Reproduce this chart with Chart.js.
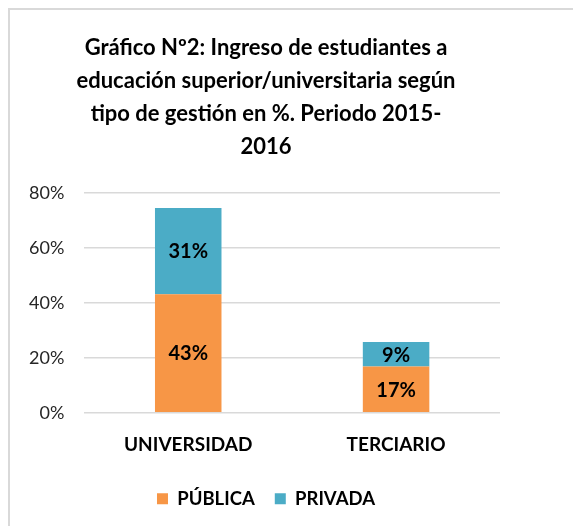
<!DOCTYPE html>
<html>
<head>
<meta charset="utf-8">
<script src="https://cdn.jsdelivr.net/npm/chart.js@4/dist/chart.umd.min.js"></script>
<style>
  html, body { margin: 0; padding: 0; background: #fff; }
  #box {
    position: absolute; left: 8px; top: 8px;
    width: 580px; height: 530px;
    border: 2px solid #d9d9d9;
    box-sizing: border-box;
  }
  #wrap { position: absolute; left: 9px; top: 9px; width: 564px; height: 517px; }
</style>
</head>
<body>
<div id="box"></div>
<div id="wrap"><canvas id="grafico"></canvas></div>
<script>
const categorias = ['UNIVERSIDAD', 'TERCIARIO'];
const publica = [43.2, 16.8];
const privada = [31.4, 9.0];
const ticksY = [0, 20, 40, 60, 80];
const titulo = [
    'Gráfico Nº2: Ingreso de estudiantes a',
    'educación superior/universitaria según',
    'tipo de gestión en %. Periodo 2015-',
    '2016'
];

const fuente = "Lato, 'Open Sans', sans-serif";

// etiquetas de porcentaje dentro de cada tramo
const etiquetas = {
    id: 'etiquetas',
    afterDatasetsDraw(chart) {
        const ctx = chart.ctx;
        ctx.save();
        ctx.font = 'bold 20px ' + fuente;
        ctx.fillStyle = '#000';
        ctx.textAlign = 'center';
        ctx.textBaseline = 'middle';
        chart.data.datasets.forEach((ds, i) => {
            chart.getDatasetMeta(i).data.forEach((bar, j) => {
                const y = (bar.y + bar.base) / 2;
                ctx.fillText(Math.round(ds.data[j]) + '%', bar.x, y + 1);
            });
        });
        ctx.restore();
    }
};

new Chart(document.getElementById('grafico'), {
    type: 'bar',
    data: {
        labels: categorias,
        datasets: [
            { label: 'PÚBLICA', data: publica, backgroundColor: '#F79646' },
            { label: 'PRIVADA', data: privada, backgroundColor: '#4BACC6' }
        ]
    },
    options: {
        responsive: true,
        maintainAspectRatio: false,
        animation: false,
        layout: { padding: { left: 0, right: 50, top: 0, bottom: 8 } },
        datasets: { bar: { categoryPercentage: 0.64, barPercentage: 0.5 } },
        plugins: {
            title: {
                display: true,
                text: titulo,
                color: '#000',
                font: { family: fuente, size: 22, weight: 'bold', lineHeight: 1.49 },
                padding: { top: 23, bottom: 30 }
            },
            legend: {
                position: 'bottom',
                labels: {
                    boxWidth: 11,
                    boxHeight: 11,
                    padding: 20,
                    color: '#000',
                    font: { family: fuente, size: 18.5, weight: 'bold' }
                }
            },
            tooltip: { enabled: false }
        },
        scales: {
            x: {
                stacked: true,
                grid: { display: false },
                border: { display: false },
                ticks: {
                    color: '#000',
                    padding: 13,
                    font: { family: fuente, size: 19, weight: 'bold' }
                }
            },
            y: {
                stacked: true,
                min: 0,
                max: 80,
                afterBuildTicks: axis => { axis.ticks = ticksY.map(v => ({ value: v })); },
                grid: { color: '#d9d9d9', lineWidth: 1.5, drawTicks: false },
                border: { display: false },
                ticks: {
                    color: '#262626',
                    padding: 20,
                    font: { family: fuente, size: 18 },
                    callback: v => v + '%'
                }
            },
            // eje vacío a la derecha para dejar margen sin mover el título
            margen: {
                position: 'right',
                grid: { display: false },
                border: { display: false },
                ticks: { display: false },
                afterFit: s => { s.width = 23; }
            }
        }
    },
    plugins: [etiquetas]
});
</script>
</body>
</html>
